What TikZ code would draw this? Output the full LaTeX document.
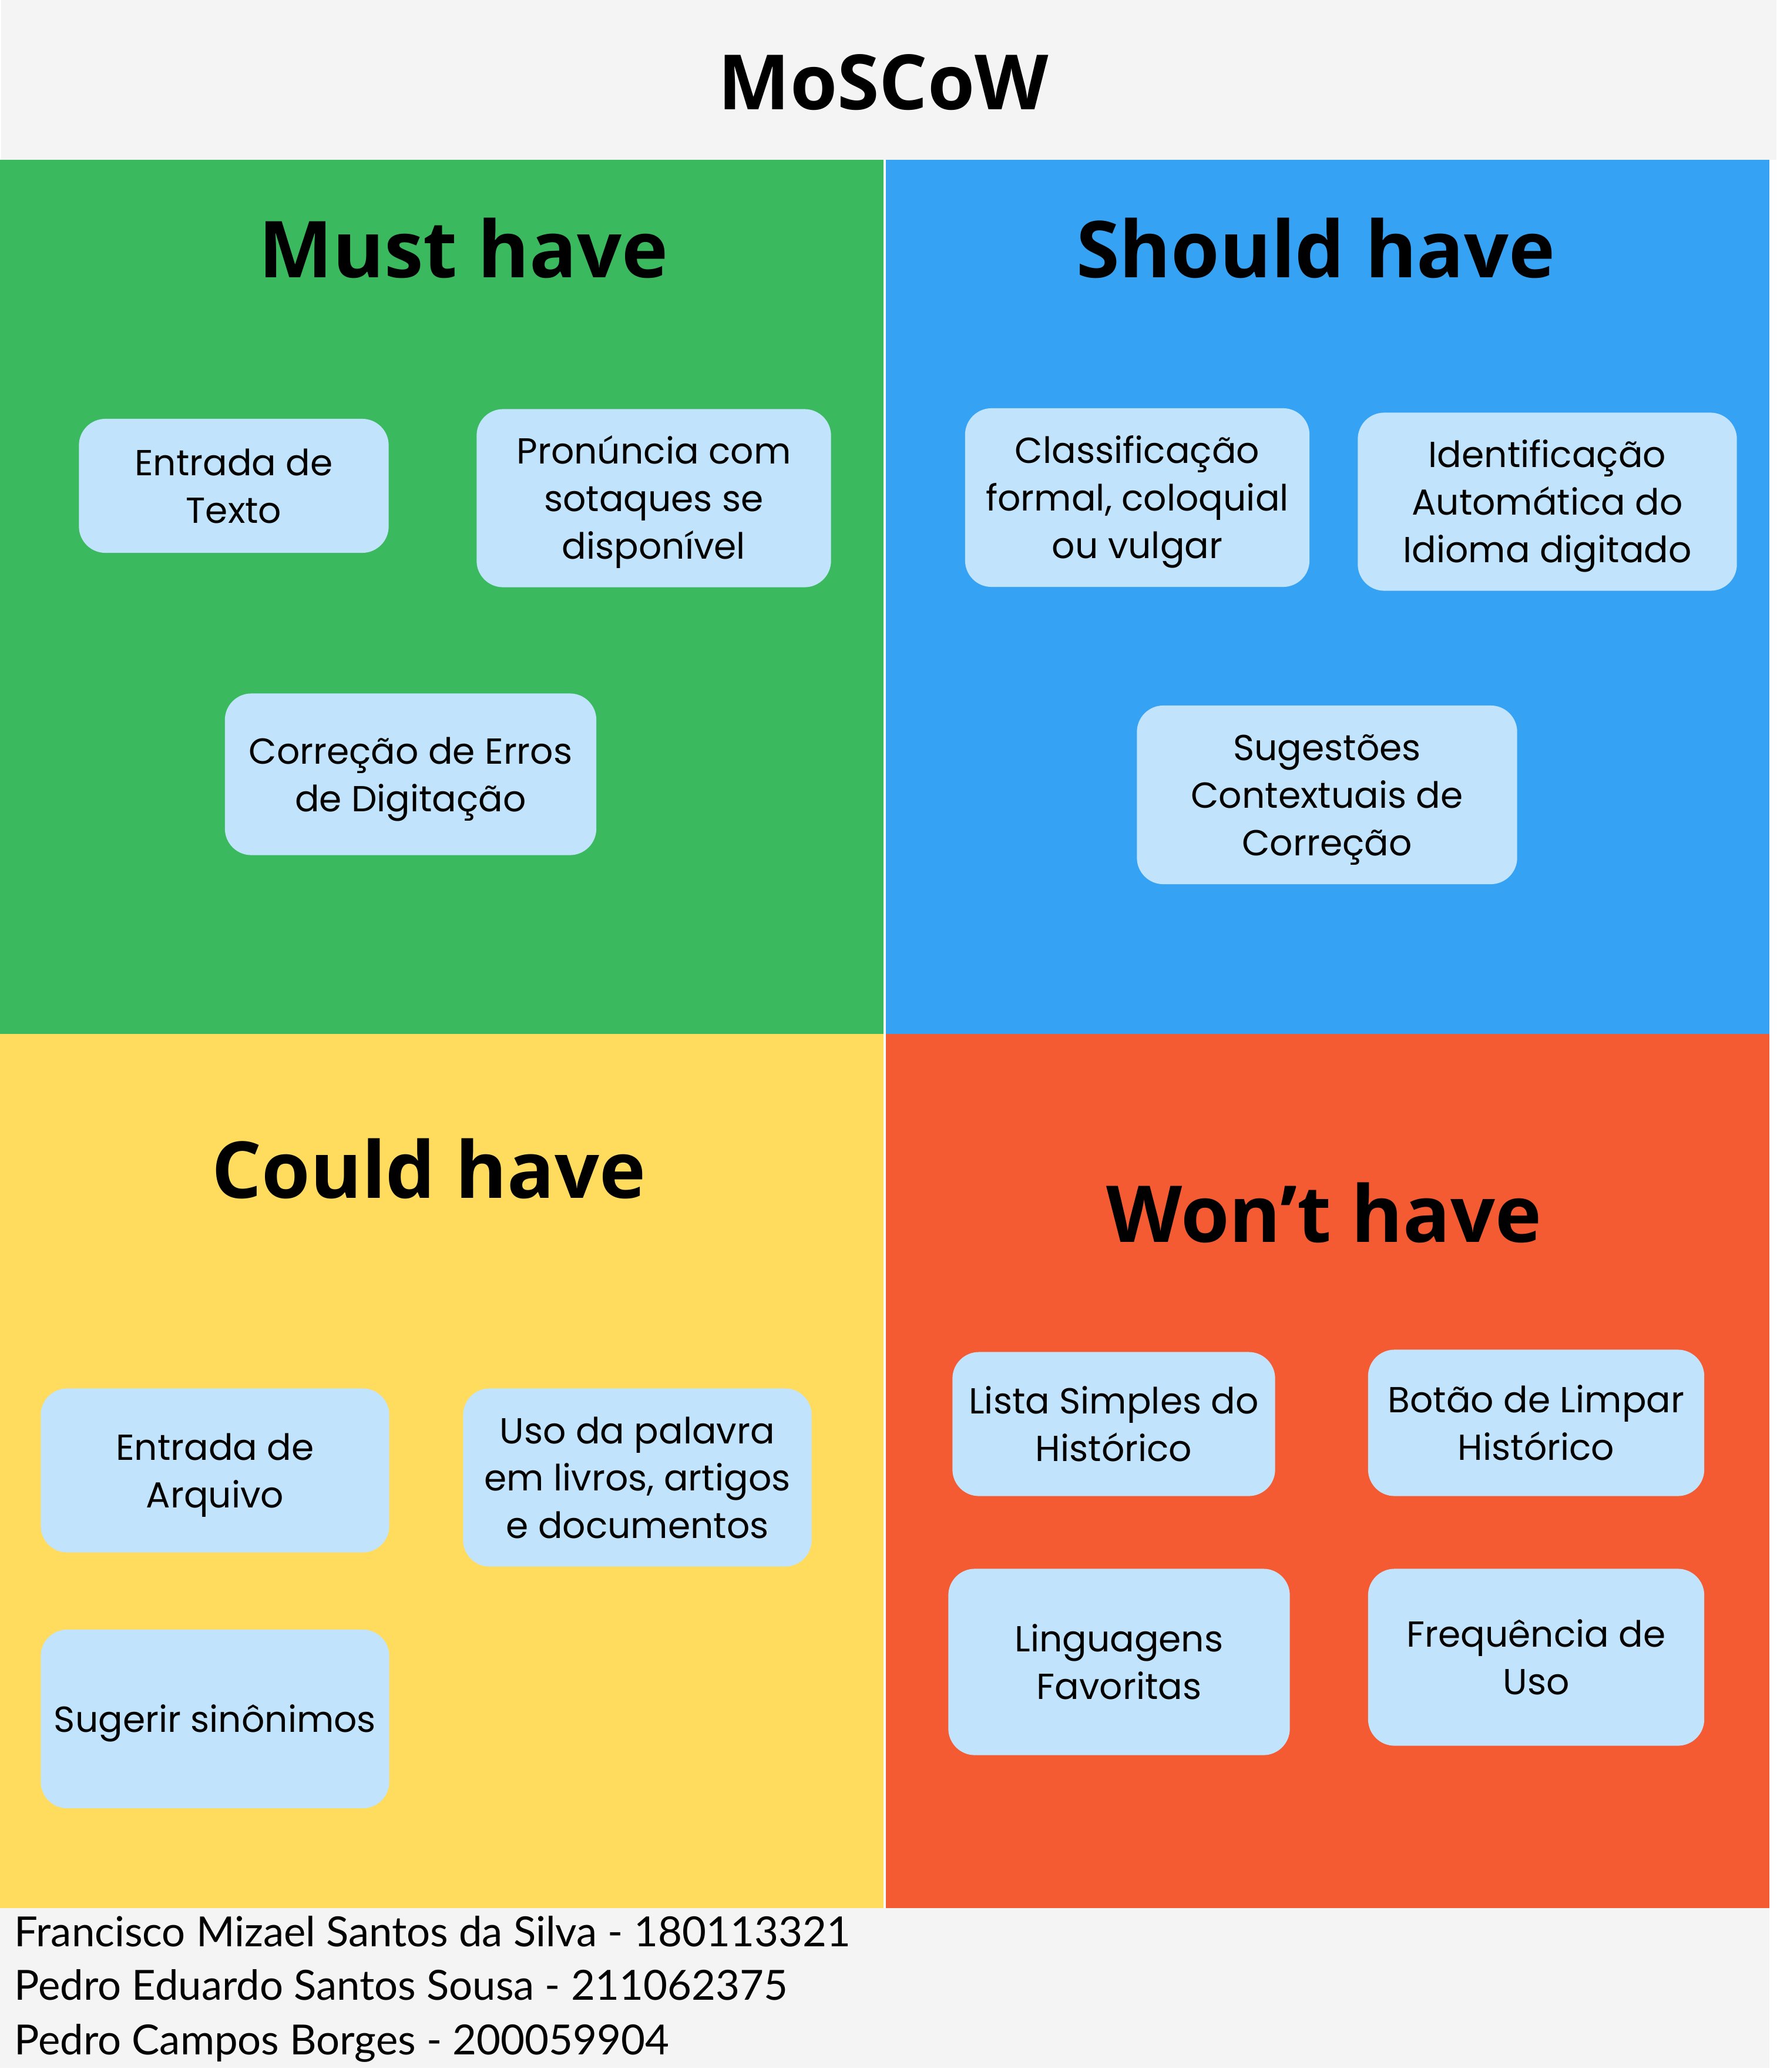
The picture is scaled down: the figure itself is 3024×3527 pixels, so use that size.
\documentclass[tikz,border=0pt]{standalone}
\usepackage{fontspec}
\setmainfont{Poppins}
\newfontfamily\headfont{Open Sans}
\newfontfamily\creditfont{Lato}
\usepackage{xcolor}
\usepackage{tikz}
\usetikzlibrary{positioning}

\definecolor{paper}{HTML}{F4F4F4}
\definecolor{mustgreen}{HTML}{3BB95E}
\definecolor{shouldblue}{HTML}{36A2F4}
\definecolor{couldyellow}{HTML}{FFDB5E}
\definecolor{wontorange}{HTML}{F55B32}
\definecolor{cardblue}{HTML}{C1E4FC}

\begin{document}
\begin{tikzpicture}[x=0.01cm, y=-0.01cm,
        card/.style={rectangle, rounded corners=0.45cm, fill=cardblue, inner sep=0pt, align=center,
            font=\fontsize{17.5}{23}\selectfont, text depth=0pt},
        one line/.style={text height=13pt},
        two lines/.style={text height=36pt},
        three lines/.style={text height=59pt},
        heading/.style={anchor=base, inner sep=0pt, font=\headfont\bfseries\fontsize{38}{44}\selectfont},
        credit/.style={anchor=base west, inner sep=0pt, font=\creditfont\fontsize{20.1}{24}\selectfont}
    ]
    \useasboundingbox (0,0) rectangle (3024,3527);
    \fill[white] (0,0) rectangle (3024,3527);

    % Background bands and quadrants
    \fill[paper] (2,0) rectangle (3024,272);
    \fill[paper] (0,3248) rectangle (3012,3520);
    \fill[mustgreen] (0,272) rectangle (1504,1760);
    \fill[shouldblue] (1508,272) rectangle (3012,1760);
    \fill[couldyellow] (0,1760) rectangle (1504,3248);
    \fill[wontorange] (1508,1760) rectangle (3012,3248);

    \node[heading, font=\headfont\bfseries\fontsize{36.9}{42}\selectfont] (title) at (1504,186) {MoSCoW};

    % Must have
    \node[heading] (must) at (789,472) {Must have};
    \node[card, two lines, minimum width=5.27cm, minimum height=2.28cm] (texto) at (398,827) {Entrada de\\Texto};
    \node[card, three lines, minimum width=6.03cm, minimum height=3.03cm] (pronuncia) at (1113,848) {Pronúncia com\\sotaques se\\disponível};
    \node[card, two lines, minimum width=6.32cm, minimum height=2.75cm] (correcao) at (699,1318) {Correção de Erros\\de Digitação};

    % Should have
    \node[heading] (should) at (2240,472) {Should have};
    \node[card, three lines, minimum width=5.86cm, minimum height=3.04cm] (classif) at (1936,847) {Classificação\\formal, coloquial\\ou vulgar};
    \node[card, three lines, minimum width=6.45cm, minimum height=3.03cm] (idioma) at (2634,854) {Identificação\\Automática do\\Idioma digitado};
    \node[card, three lines, minimum width=6.47cm, minimum height=3.04cm] (sugestoes) at (2259,1353) {Sugestões\\Contextuais de\\Correção};

    % Could have
    \node[heading] (could) at (730,2039) {Could have};
    \node[card, two lines, minimum width=5.93cm, minimum height=2.79cm] (arquivo) at (366,2503) {Entrada de\\Arquivo};
    \node[card, three lines, minimum width=5.93cm, minimum height=3.03cm] (uso) at (1085,2515) {Uso da palavra\\em livros, artigos\\e documentos};
    \node[card, one line, minimum width=5.93cm, minimum height=3.04cm] (sinonimos) at (366,2926) {Sugerir sinônimos};

    % Won't have
    \node[heading] (wont) at (2254,2114) {Won’t have};
    \node[card, two lines, minimum width=5.49cm, minimum height=2.45cm] (lista) at (1896,2424) {Lista Simples do\\Histórico};
    \node[card, two lines, minimum width=5.72cm, minimum height=2.49cm] (botao) at (2615,2422) {Botão de Limpar\\Histórico};
    \node[card, two lines, minimum width=5.81cm, minimum height=3.17cm] (linguagens) at (1905,2829) {Linguagens\\Favoritas};
    \node[card, two lines, minimum width=5.72cm, minimum height=3.01cm] (frequencia) at (2615,2821) {Frequência de\\Uso};

    % Authors
    \node[credit] (autor1) at (24,3313) {Francisco Mizael Santos da Silva - 180113321};
    \node[credit] (autor2) at (24,3404) {Pedro Eduardo Santos Sousa - 211062375};
    \node[credit] (autor3) at (24,3497) {Pedro Campos Borges - 200059904};

\end{tikzpicture}
\end{document}
